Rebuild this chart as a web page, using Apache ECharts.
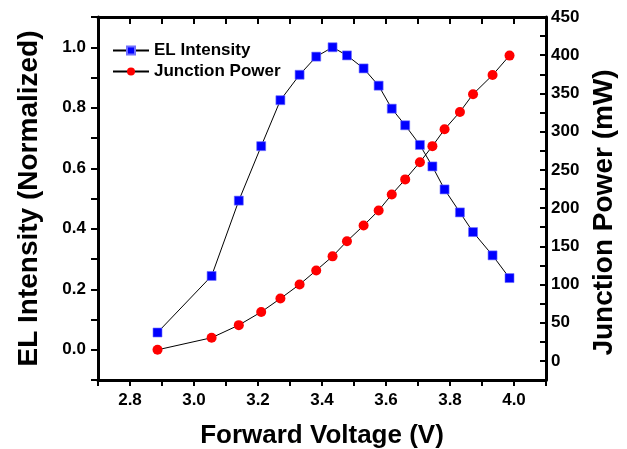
<!DOCTYPE html>
<html>
<head>
<meta charset="utf-8">
<script src="https://cdn.jsdelivr.net/npm/echarts@6/dist/echarts.min.js"></script>
<style>
  html, body { margin: 0; padding: 0; background: #ffffff; }
  #chart { width: 627px; height: 449px; }
</style>
</head>
<body>
<div id="chart"></div>
<script>
// forward voltage (V), shared by both series
const voltage = [2.886, 3.055, 3.14, 3.21, 3.27, 3.33, 3.382, 3.433, 3.478, 3.53,
                 3.577, 3.618, 3.66, 3.706, 3.745, 3.783, 3.831, 3.872, 3.933, 3.986];
// EL intensity, normalized
const elIntensity = [0.057, 0.244, 0.493, 0.673, 0.825, 0.909, 0.969, 1.0, 0.973, 0.930,
                     0.873, 0.797, 0.742, 0.677, 0.606, 0.530, 0.454, 0.389, 0.312, 0.237];
// junction power (mW)
const junctionPower = [14.5, 30.3, 46.8, 64, 81.6, 100, 118.4, 136.8, 156.6, 177.1,
                       196.8, 217.8, 237.5, 260, 281, 303, 325.8, 349, 374, 399.5];

const FONT = '"Liberation Sans", Arial, sans-serif';

const elData = voltage.map((v, i) => [v, elIntensity[i]]);
const powerData = voltage.map((v, i) => [v, junctionPower[i]]);

let myChart = echarts.init(document.getElementById('chart'));

let option = {
  backgroundColor: '#ffffff',
  animation: false,
  grid: { left: 98, right: 81, top: 17, bottom: 69, outerBoundsMode: 'none', containLabel: false },
  legend: {
    orient: 'vertical',
    left: 107,
    top: 37,
    itemWidth: 36,
    itemHeight: 10,
    itemGap: 4,
    textStyle: { fontFamily: FONT, fontSize: 17, fontWeight: 'bold', color: '#000' },
    data: ['EL Intensity', 'Junction Power']
  },
  xAxis: [
    {
      type: 'value', position: 'bottom',
      min: 2.7, max: 4.1, interval: 0.1,
      name: 'Forward Voltage (V)', nameLocation: 'middle', nameGap: 43,
      nameTextStyle: { fontFamily: FONT, fontSize: 26, fontWeight: 'bold', color: '#000' },
      axisLine: { onZero: false, lineStyle: { color: '#000', width: 3 } },
      axisTick: { inside: false, length: 6, lineStyle: { color: '#000', width: 2 } },
      axisLabel: {
        margin: 12, fontFamily: FONT, fontSize: 17, fontWeight: 'bold', color: '#000',
        formatter: v => (Math.round(v * 10) % 2 === 0 ? v.toFixed(1) : '')
      },
      splitLine: { show: false }
    },
    {
      // mirrored frame on top
      type: 'value', position: 'top',
      min: 2.7, max: 4.1, interval: 0.1,
      axisLine: { onZero: false, lineStyle: { color: '#000', width: 3 } },
      axisTick: { inside: true, length: 7, lineStyle: { color: '#000', width: 2 } },
      axisLabel: { show: false },
      splitLine: { show: false }
    }
  ],
  yAxis: [
    {
      type: 'value', position: 'left',
      min: -0.1, max: 1.1, interval: 0.1,
      name: 'EL Intensity (Normalized)', nameLocation: 'middle', nameGap: 55,
      nameTextStyle: { fontFamily: FONT, fontSize: 28, fontWeight: 'bold', color: '#000' },
      axisLine: { show: true, onZero: false, lineStyle: { color: '#000', width: 3 } },
      axisTick: { show: true, inside: false, length: 7, lineStyle: { color: '#000', width: 2 } },
      axisLabel: {
        margin: 12, fontFamily: FONT, fontSize: 17, fontWeight: 'bold', color: '#000',
        formatter: v => {
          const t = Math.round(v * 10);
          return (t >= 0 && t <= 10 && t % 2 === 0) ? (t / 10).toFixed(1) : '';
        }
      },
      splitLine: { show: false }
    },
    {
      type: 'value', position: 'right',
      min: -25, max: 450, interval: 25,
      name: 'Junction Power (mW)', nameLocation: 'middle', nameGap: 42,
      nameTextStyle: {
        fontFamily: FONT, fontSize: 28, fontWeight: 'bold', color: '#000',
        padding: [0, 28, 0, 0]
      },
      axisLine: { show: true, onZero: false, lineStyle: { color: '#000', width: 3 } },
      axisTick: { show: true, inside: true, length: 6, lineStyle: { color: '#000', width: 2 } },
      axisLabel: {
        margin: 5, fontFamily: FONT, fontSize: 17, fontWeight: 'bold', color: '#000',
        formatter: v => (v >= 0 && Math.round(v) % 50 === 0 ? String(Math.round(v)) : '')
      },
      splitLine: { show: false }
    }
  ],
  series: [
    {
      name: 'EL Intensity',
      type: 'line',
      xAxisIndex: 0, yAxisIndex: 0,
      data: elData,
      symbol: 'rect', symbolSize: 9,
      itemStyle: { color: '#0000ff', borderColor: '#6f6fff', borderWidth: 0.6 },
      lineStyle: { color: '#000', width: 1 }
    },
    {
      name: 'Junction Power',
      type: 'line',
      xAxisIndex: 0, yAxisIndex: 1,
      data: powerData,
      symbol: 'circle', symbolSize: 10,
      itemStyle: { color: '#ff0000' },
      lineStyle: { color: '#000', width: 1 }
    }
  ]
};

myChart.setOption(option);
</script>
</body>
</html>
